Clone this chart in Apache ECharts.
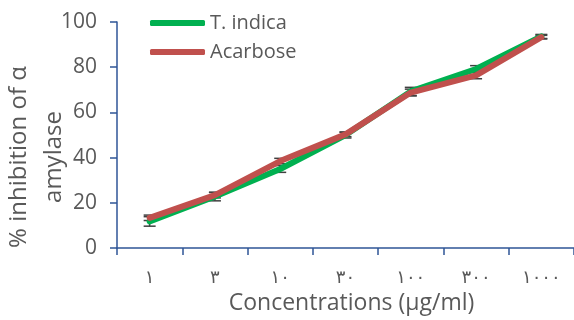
<!DOCTYPE html>
<html>
<head>
<meta charset="utf-8">
<script src="https://cdn.jsdelivr.net/npm/echarts@6/dist/echarts.min.js"></script>
<style>
  html, body { margin: 0; padding: 0; background: #fff; }
  #chart { width: 574px; height: 320px; }
</style>
</head>
<body>
<div id="chart"></div>
<script>
const categories = ['١', '٣', '١٠', '٣٠', '١٠٠', '٣٠٠', '١٠٠٠']
const indicaValues = [11.8, 22.8, 35, 50, 69.3, 79.2, 93.6]
const indicaErrors = [2.1, 1.9, 1.5, 1.3, 1.8, 1.5, 0.9]
const acarboseValues = [13.4, 23.4, 38.5, 50.3, 68.8, 76.4, 93.3]
const acarboseErrors = [1.2, 1.2, 1.2, 1, 1.5, 1.5, 0.8]
const yTicks = [0, 20, 40, 60, 80, 100]

const axisColor = '#2F5597'
const textColor = '#595959'
const font = 'Open Sans, DejaVu Sans, sans-serif'

const errorData = []
categories.forEach((c, i) => {
  errorData.push([i, indicaValues[i] - indicaErrors[i], indicaValues[i] + indicaErrors[i]])
  errorData.push([i, acarboseValues[i] - acarboseErrors[i], acarboseValues[i] + acarboseErrors[i]])
})

const renderErrorBar = (params, api) => {
  const low = api.coord([api.value(0), api.value(1)])
  const high = api.coord([api.value(0), api.value(2)])
  const half = 6
  const style = { stroke: '#404040', lineWidth: 1.5 }
  return {
    type: 'group',
    children: [
      { type: 'line', shape: { x1: low[0], y1: low[1], x2: high[0], y2: high[1] }, style },
      { type: 'line', shape: { x1: low[0] - half, y1: low[1], x2: low[0] + half, y2: low[1] }, style },
      { type: 'line', shape: { x1: high[0] - half, y1: high[1], x2: high[0] + half, y2: high[1] }, style }
    ]
  }
}

const myChart = echarts.init(document.getElementById('chart'))
const option = {
  animation: false,
  grid: { left: 117, top: 22, right: -7, bottom: 67 },
  legend: {
    orient: 'vertical',
    left: 150,
    top: 11,
    padding: 0,
    icon: 'roundRect',
    itemWidth: 55,
    itemHeight: 6,
    itemGap: 5,
    textStyle: { fontSize: 20, lineHeight: 24, color: textColor, fontFamily: font },
    data: ['T. indica', 'Acarbose']
  },
  xAxis: {
    type: 'category',
    data: categories,
    name: 'Concentrations (μg/ml)',
    nameLocation: 'middle',
    nameGap: 43,
    nameTextStyle: { fontSize: 23, color: textColor, fontFamily: font, padding: [0, 0, 0, 12] },
    axisLine: { lineStyle: { color: axisColor, width: 1.5 } },
    axisTick: { show: true, length: 7, lineStyle: { color: axisColor, width: 1.5 } },
    axisLabel: { fontSize: 18, color: textColor, fontFamily: 'DejaVu Sans', margin: 21 },
    splitLine: { show: false }
  },
  yAxis: {
    type: 'value',
    min: yTicks[0],
    max: yTicks[yTicks.length - 1],
    interval: 20,
    axisLine: { show: true, lineStyle: { color: axisColor, width: 1.5 } },
    axisTick: { show: true, length: 7, lineStyle: { color: axisColor, width: 1.5 } },
    axisLabel: { fontSize: 21, color: textColor, fontFamily: font, margin: 20 },
    splitLine: { show: false }
  },
  graphic: [
    {
      type: 'text',
      x: 37,
      y: 157,
      rotation: Math.PI / 2,
      style: {
        text: '% inhibition of α\namylase',
        fontSize: 24,
        lineHeight: 35,
        fontFamily: font,
        fill: textColor,
        align: 'center',
        verticalAlign: 'middle'
      }
    }
  ],
  series: [
    {
      type: 'custom',
      renderItem: renderErrorBar,
      data: errorData,
      z: 1,
      silent: true
    },
    {
      name: 'T. indica',
      type: 'line',
      data: indicaValues,
      showSymbol: false,
      lineStyle: { color: '#00B050', width: 6, cap: 'round', join: 'round' },
      itemStyle: { color: '#00B050' },
      z: 2
    },
    {
      name: 'Acarbose',
      type: 'line',
      data: acarboseValues,
      showSymbol: false,
      lineStyle: { color: '#C0504D', width: 6, cap: 'round', join: 'round' },
      itemStyle: { color: '#C0504D' },
      z: 3
    }
  ]
}
myChart.setOption(option)
</script>
</body>
</html>
